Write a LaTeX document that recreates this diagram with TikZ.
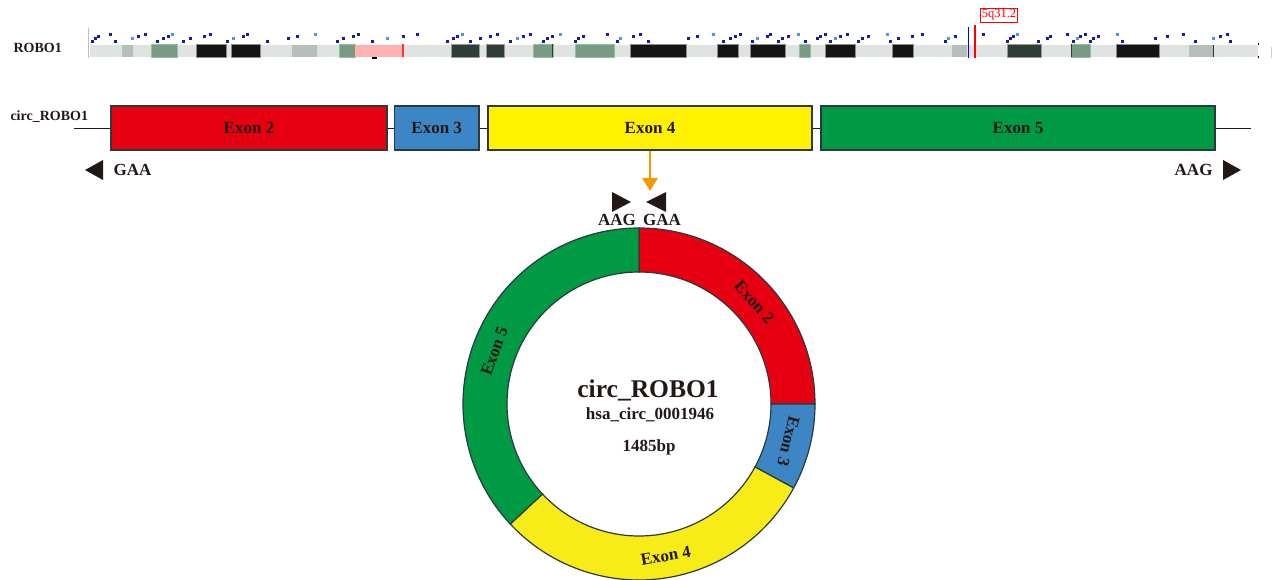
\documentclass[tikz,border=0pt]{standalone}
\usepackage{fontspec}
\setmainfont{Liberation Serif}
\usetikzlibrary{arrows.meta}
\definecolor{exred}{HTML}{E60012}
\definecolor{exblue}{HTML}{3C86C6}
\definecolor{exyellow}{HTML}{FFF100}
\definecolor{exyellowc}{HTML}{F7EC17}
\definecolor{exgreen}{HTML}{009944}
\definecolor{ink}{HTML}{231815}
\definecolor{edge}{HTML}{2B3A3A}
\definecolor{arrorange}{HTML}{F39800}
\definecolor{bargrey}{HTML}{DFE3E1}
\definecolor{midgrey}{HTML}{B4C0B9}
\definecolor{greengrey}{HTML}{7A9A86}
\definecolor{greenedge}{HTML}{8CC4A0}
\definecolor{darkband}{HTML}{2E3D35}
\definecolor{pinkband}{HTML}{FFB2B2}
\definecolor{dotblue}{HTML}{1A1AA8}
\definecolor{dotlight}{HTML}{4A9AE0}
\begin{document}
\begin{tikzpicture}[x=1pt,y=-1pt,
  lab/.style={font=\fontsize{17}{17}\selectfont\bfseries, text=ink},
  smalllab/.style={font=\fontsize{14}{14}\selectfont\bfseries, text=ink},
  exonbox/.style={draw=edge, line width=1.2pt, minimum height=44pt, inner sep=0pt, lab},
  ringseg/.style={draw=edge, line width=1.2pt},
  tri/.style={fill=ink},
  band/.style={line width=0.6pt}]
\useasboundingbox (0,0) rectangle (1276,580);

% ---------- genome track ----------
\node[smalllab, anchor=west] (robo) at (10,48) {ROBO1};
\draw[black!25, line width=0.6pt] (88,28) -- (88,58);
\fill[bargrey] (90,45) rectangle (1258,57);
\foreach \a/\b in {121.7/133.3, 292/317, 951.7/966.7, 1189/1214}
  \fill[midgrey] (\a,45) rectangle (\b,57);
\draw[darkband, line width=1pt] (1213.5,45) -- (1213.5,57);
\foreach \a/\b in {151.7/177.5, 339/355, 533.3/553, 575/614.3, 799.3/810.5, 1071/1090.7}
  \filldraw[band, fill=greengrey, draw=greenedge] (\a,44.5) rectangle (\b,57);
\draw[darkband, line width=1pt] (552.5,44.5) -- (552.5,57);
\draw[darkband, line width=1pt] (1071.5,44.5) -- (1071.5,57);
\foreach \a/\b in {451/479, 486/504.3, 1007.3/1041.7}
  \filldraw[band, fill=darkband, draw=black!40] (\a,44.5) rectangle (\b,57);
\foreach \a/\b in {196.7/226.7, 231.7/260, 630.7/686.7, 717.7/738.3, 750/785, 825/855, 892.7/913.3, 1116.7/1159}
  \filldraw[band, fill=black!92, draw=black!45] (\a,44.5) rectangle (\b,57);
\fill[pinkband] (355,45) rectangle (403,57);
\fill[red!80] (401.5,44) rectangle (403.5,57);
\fill[black] (372,57) rectangle (377,59);
\fill[black] (1257.5,43.5) rectangle (1259,45);
\fill[black] (1257.5,56.5) rectangle (1259,58);
\draw[black!20, line width=0.8pt] (1271,47) -- (1271,58);
\foreach \x [count=\i] in {92,95,98,110,115,132,138,145,157,163,168,172,183,190,204,210,227,233,243,247,267,288,297,315,337,343,353,358,372,387,403,417,
  447,453,457,462,470,480,490,497,510,517,523,530,543,547,552,560,575,578,583,607,617,620,633,640,648,688,697,713,723,730,735,740,752,757,767,770,778,782,788,798,805,817,820,825,830,835,840,
  847,858,862,868,887,890,898,912,922,945,948,955,983,1007,1010,1013,1017,1038,1047,1050,1067,1073,1077,1080,1085,1090,1093,1098,1117,1122,1155,1167,1183,1195,1213,1220,1227,1230}
{
  \pgfmathtruncatemacro\k{mod(\i*7,4)}
  \pgfmathtruncatemacro\c{mod(\i,6)}
  \ifnum\c=0 \def\dc{dotlight}\else\def\dc{dotblue}\fi
  \fill[\dc] (\x-1.3,33+\k*2.2) rectangle ++(2.8,3);
}
\draw[blue, line width=1.6pt] (968.5,27) -- (968.5,58);
\draw[red, line width=2pt] (974.5,25) -- (974.5,58);
\node[draw=red, text=red, font=\fontsize{12.5}{12.5}\selectfont, inner sep=1.6pt, line width=0.8pt] (bandlab) at (999,15) {5q31.2};

% ---------- linear transcript ----------
\node[smalllab, anchor=west] (circlab) at (7,117) {circ\_ROBO1};
\coordinate (ls) at (74,128.5);
\coordinate (le) at (1251,128.5);
\draw[ink, line width=1.5pt] (ls) -- (le);
\node[exonbox, fill=exred, minimum width=276pt] (e2) at (249,128) {Exon 2};
\node[exonbox, fill=exblue, minimum width=84.7pt] (e3) at (436.7,128) {Exon 3};
\node[exonbox, fill=exyellow, minimum width=324pt] (e4) at (650,128) {Exon 4};
\node[exonbox, fill=exgreen, minimum width=394pt] (e5) at (1018,128) {Exon 5};

\fill[tri] (85,170) -- (103,160) -- (103,180) -- cycle;
\node[lab, anchor=west] (gaa1) at (110,170) {GAA};
\fill[tri] (1241,170) -- (1223,160) -- (1223,180) -- cycle;
\node[lab, anchor=east] (aag1) at (1216,170) {AAG};

\coordinate (atip) at (650,191);
\draw[arrorange, line width=2.4pt, -{Triangle[width=15pt,length=13pt]}] (e4.south) -- (atip);

\fill[tri] (631,202) -- (612,192) -- (612,212) -- cycle;
\fill[tri] (646,202) -- (666,192) -- (666,212) -- cycle;
\node[lab] (aag2) at (617,220) {AAG};
\node[lab] (gaa2) at (662,220) {GAA};

% ---------- circular RNA ----------
\begin{scope}[shift={(639,404)}, y=1pt]
\def\rout{176}\def\rin{132}
\filldraw[ringseg, fill=exred] (90:\rout) arc[start angle=90, end angle=0, radius=\rout] -- (0:\rin) arc[start angle=0, end angle=90, radius=\rin] -- cycle;
\filldraw[ringseg, fill=exblue] (0:\rout) arc[start angle=0, end angle=-28.5, radius=\rout] -- (-28.5:\rin) arc[start angle=-28.5, end angle=0, radius=\rin] -- cycle;
\filldraw[ringseg, fill=exyellowc] (-28.5:\rout) arc[start angle=-28.5, end angle=-137, radius=\rout] -- (-137:\rin) arc[start angle=-137, end angle=-28.5, radius=\rin] -- cycle;
\filldraw[ringseg, fill=exgreen] (-137:\rout) arc[start angle=-137, end angle=-270, radius=\rout] -- (-270:\rin) arc[start angle=-270, end angle=-137, radius=\rin] -- cycle;
\node[lab, rotate=-48.5] (c2) at (41.5:154) {Exon 2};
\node[lab, rotate=-104] (c3) at (-14:154) {Exon 3};
\node[lab, rotate=10] (c4) at (-80:154) {Exon 4};
\node[lab, rotate=70] (c5) at (160:154) {Exon 5};
\end{scope}
\node[font=\fontsize{25.5}{25.5}\selectfont\bfseries, text=ink] (cname) at (648,390) {circ\_ROBO1};
\node[lab] (cid) at (650,415) {hsa\_circ\_0001946};
\node[lab] (clen) at (649,447) {1485bp};
\end{tikzpicture}
\end{document}
